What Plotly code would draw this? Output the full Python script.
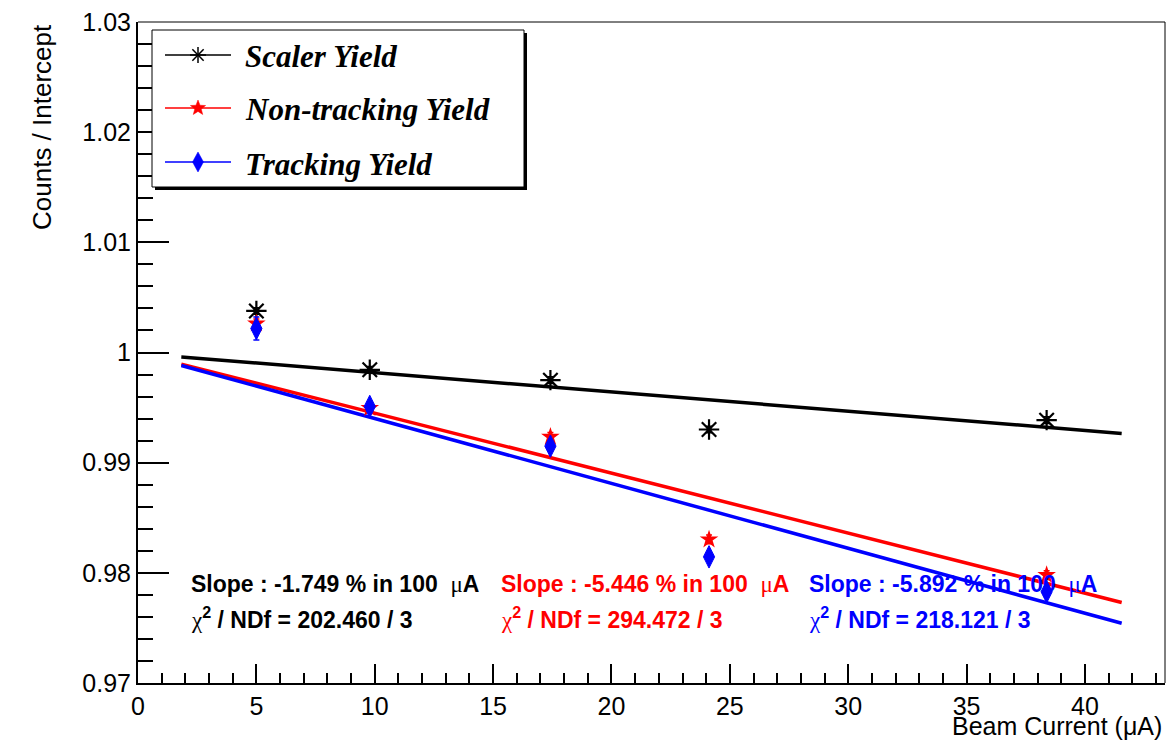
import plotly.graph_objects as go
import math

# ---------------- data ----------------
current = [5.0, 9.79, 17.42, 24.12, 38.38]
scaler_yield = [1.00377, 0.99843, 0.99749, 0.99301, 0.99386]
nontracking_yield = [1.00263, 0.99495, 0.99234, 0.98303, 0.97979]
tracking_yield = [1.00218, 0.99510, 0.99150, 0.98145, 0.97828]
scaler_err = [0.0003, 0.0003, 0.0003, 0.0003, 0.0003]
nontracking_err = [0.0004, 0.0004, 0.0004, 0.0004, 0.0004]
tracking_err = [0.00105, 0.0004, 0.0004, 0.0004, 0.0004]

series_names = ["Scaler Yield", "Non-tracking Yield", "Tracking Yield"]
fit_slopes = [-1.749, -5.446, -5.892]          # % in 100 uA
fit_intercepts = [0.99992, 0.99994, 0.99990]
fit_chi2 = [202.460, 294.472, 218.121]
fit_ndf = [3, 3, 3]
fit_range = [1.83, 41.55]

x_ticks = [0, 5, 10, 15, 20, 25, 30, 35, 40]
y_ticks = [0.97, 0.98, 0.99, 1.00, 1.01, 1.02, 1.03]
y_ticklabels = ["0.97", "0.98", "0.99", "1", "1.01", "1.02", "1.03"]

colors = ["#000000", "#ff0000", "#0000ff"]

# ---------------- layout geometry ----------------
W, H = 1167, 742
ML, MR, MT, MB = 138, 2, 22, 59
PW, PH = W - ML - MR, H - MT - MB


def X(px):
    return (px - ML) / PW


def Y(py):
    return (H - MB - py) / PH


fig = go.Figure()

# fit lines
for s, b, c in zip(fit_slopes, fit_intercepts, colors):
    fx = fit_range
    fy = [b + s / 1e4 * x for x in fx]
    fig.add_trace(go.Scatter(x=fx, y=fy, mode="lines", line=dict(color=c, width=3.5),
                             showlegend=False, hoverinfo="skip"))

# data points
fig.add_trace(go.Scatter(x=current, y=scaler_yield, mode="markers", name=series_names[0],
                         marker=dict(symbol="asterisk-open", size=17, color=colors[0],
                                     line=dict(color=colors[0], width=2.2)),
                         error_y=dict(type="data", array=scaler_err, color=colors[0], thickness=1.5, width=3),
                         showlegend=False))
fig.add_trace(go.Scatter(x=current, y=nontracking_yield, mode="markers", name=series_names[1],
                         marker=dict(symbol="star", size=14, color=colors[1], line=dict(width=0)),
                         error_y=dict(type="data", array=nontracking_err, color=colors[1], thickness=1.5, width=3),
                         showlegend=False))
fig.add_trace(go.Scatter(x=current, y=tracking_yield, mode="markers", name=series_names[2],
                         marker=dict(symbol="diamond-tall", size=16, color=colors[2],
                                     line=dict(color=colors[2], width=1)),
                         error_y=dict(type="data", array=tracking_err, color=colors[2], thickness=1.5, width=3),
                         showlegend=False))

shapes = []
# top and right frame lines
shapes.append(dict(type="line", xref="paper", yref="paper", x0=0, x1=1, y0=1, y1=1,
                   line=dict(color="#000000", width=1)))
shapes.append(dict(type="line", xref="paper", yref="paper", x0=1, x1=1, y0=0, y1=1,
                   line=dict(color="#000000", width=1)))

# legend box with shadow
LX0, LX1, LY0, LY1 = 152, 524, 30, 187
shapes.append(dict(type="rect", xref="paper", yref="paper", layer="above",
                   x0=X(LX0 + 3), x1=X(LX1 + 3), y0=Y(LY1 + 3), y1=Y(LY0 + 3),
                   fillcolor="#000000", line=dict(width=0)))
shapes.append(dict(type="rect", xref="paper", yref="paper", layer="above",
                   x0=X(LX0), x1=X(LX1), y0=Y(LY1), y1=Y(LY0),
                   fillcolor="#ffffff", line=dict(color="#000000", width=1)))

entry_y = [55, 108, 162]
mx = 198


def path_from(points):
    return "M " + " L ".join(f"{X(px):.5f},{Y(py):.5f}" for px, py in points) + " Z"


for i, (ey, c) in enumerate(zip(entry_y, colors)):
    shapes.append(dict(type="line", xref="paper", yref="paper", layer="above",
                       x0=X(165), x1=X(231), y0=Y(ey), y1=Y(ey),
                       line=dict(color=c, width=1.5)))
    if i == 0:
        r = 8
        for ang in (0, 45, 90, 135):
            a = math.radians(ang)
            dx, dy = r * math.cos(a), r * math.sin(a)
            shapes.append(dict(type="line", xref="paper", yref="paper", layer="above",
                               x0=X(mx - dx), x1=X(mx + dx), y0=Y(ey - dy), y1=Y(ey + dy),
                               line=dict(color=c, width=1.5)))
    elif i == 1:
        pts = []
        for k in range(10):
            rr = 8 if k % 2 == 0 else 3.4
            a = math.radians(-90 + 36 * k)
            pts.append((mx + rr * math.cos(a), ey + rr * math.sin(a)))
        shapes.append(dict(type="path", xref="paper", yref="paper", layer="above",
                           path=path_from(pts), fillcolor=c, line=dict(color=c, width=0.5)))
    else:
        pts = [(mx, ey - 10), (mx + 5.5, ey), (mx, ey + 10), (mx - 5.5, ey)]
        shapes.append(dict(type="path", xref="paper", yref="paper", layer="above",
                           path=path_from(pts), fillcolor=c, line=dict(color=c, width=0.5)))

annotations = []
for name, ey in zip(series_names, entry_y):
    annotations.append(dict(xref="paper", yref="paper", x=X(243), y=Y(ey + 2),
                            xanchor="left", yanchor="middle", showarrow=False, text=name,
                            font=dict(family="Liberation Serif", size=31, color="#000000",
                                      weight="bold", style="italic")))

# fit statistics text
MU = "<span style='font-weight:normal;font-family:Liberation Serif'>\u03bc</span>"
CHI = "<span style='font-weight:normal;font-family:Liberation Serif'>\u03c7</span>"
stat_x = [189, 499, 807]
for sx, s, chi, ndf, c in zip(stat_x, fit_slopes, fit_chi2, fit_ndf, colors):
    annotations.append(dict(xref="paper", yref="paper", x=X(sx), y=Y(584),
                            xanchor="left", yanchor="middle", showarrow=False,
                            text=f"Slope : {s:.3f} % in 100\u00a0\u00a0{MU}A",
                            font=dict(family="Liberation Sans", size=23, color=c, weight="bold")))
    annotations.append(dict(xref="paper", yref="paper", x=X(sx), y=Y(618),
                            xanchor="left", yanchor="middle", showarrow=False,
                            text=f"{CHI}<sup>2</sup> / NDf = {chi:.3f} / {ndf}",
                            font=dict(family="Liberation Sans", size=23, color=c, weight="bold")))

# axis titles
annotations.append(dict(xref="paper", yref="paper", x=X(1164), y=Y(726),
                        xanchor="right", yanchor="middle", showarrow=False,
                        text="Beam Current (\u03bcA)",
                        font=dict(family="Liberation Sans", size=25, color="#000000")))
annotations.append(dict(xref="paper", yref="paper", x=X(42), y=Y(127),
                        xanchor="center", yanchor="middle", showarrow=False, textangle=-90,
                        text="Counts / Intercept",
                        font=dict(family="Liberation Sans", size=26, color="#000000")))

fig.update_layout(
    width=W, height=H,
    margin=dict(l=ML, r=MR, t=MT, b=MB, pad=0),
    paper_bgcolor="#ffffff", plot_bgcolor="#ffffff",
    showlegend=False,
    shapes=shapes, annotations=annotations,
    font=dict(family="Liberation Sans", size=25, color="#000000"),
)
fig.update_xaxes(range=[0, 43.38], showgrid=False, zeroline=False,
                 showline=True, linecolor="#000000", linewidth=2, mirror=False,
                 ticks="inside", ticklen=19, tickwidth=1.5, tickcolor="#000000",
                 tickvals=x_ticks, ticktext=[str(v) for v in x_ticks],
                 tickfont=dict(family="Liberation Sans", size=25, color="#000000"),
                 minor=dict(dtick=1, tick0=0, ticks="inside", ticklen=10, tickwidth=1.5,
                            tickcolor="#000000", showgrid=False))
fig.update_yaxes(range=[0.97, 1.03], showgrid=False, zeroline=False,
                 showline=True, linecolor="#000000", linewidth=2, mirror=False,
                 ticks="inside", ticklen=31, tickwidth=1.5, tickcolor="#000000",
                 tickvals=y_ticks, ticktext=y_ticklabels,
                 tickfont=dict(family="Liberation Sans", size=25, color="#000000"),
                 minor=dict(dtick=0.002, tick0=0.97, ticks="inside", ticklen=15, tickwidth=1.5,
                            tickcolor="#000000", showgrid=False))

fig.write_html("out.html")
